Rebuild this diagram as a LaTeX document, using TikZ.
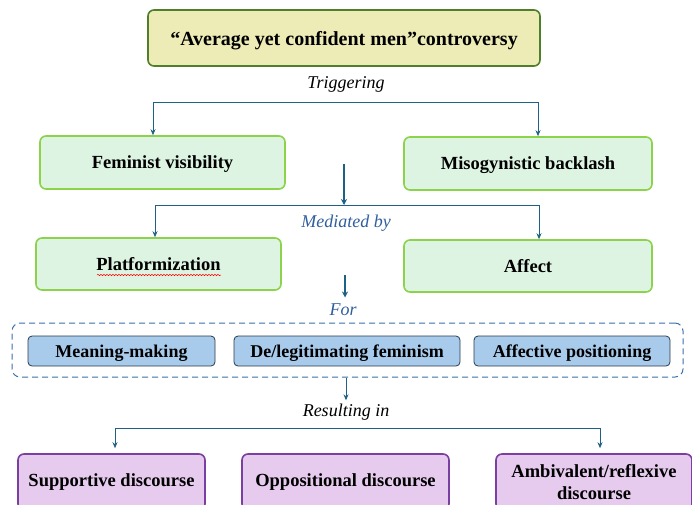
\documentclass[tikz,border=0pt]{standalone}
\usepackage{fontspec}
\setmainfont{Liberation Serif}
\usepackage{tikz}
\usetikzlibrary{positioning, arrows.meta, decorations.pathmorphing}

\definecolor{titlefill}{HTML}{EEECB6}
\definecolor{titledraw}{HTML}{4F7F2B}
\definecolor{greenfill}{HTML}{DDF4E2}
\definecolor{greendraw}{HTML}{8CD24B}
\definecolor{bluefill}{HTML}{A8CBEC}
\definecolor{bluedraw}{HTML}{2B3A4A}
\definecolor{purplefill}{HTML}{E6CBEE}
\definecolor{purpledraw}{HTML}{7A3FA0}
\definecolor{linkcol}{HTML}{1F6185}
\definecolor{labelblue}{HTML}{2F5E9E}
\definecolor{dashblue}{HTML}{3A6FA8}

\begin{document}
\begin{tikzpicture}[x=1pt, y=-1pt,
        titlebox/.style={draw=titledraw, fill=titlefill, line width=1.6pt, rounded corners=6pt, text depth=0pt, font=\fontsize{20}{24}\selectfont\bfseries},
        greenbox/.style={draw=greendraw, fill=greenfill, line width=1.6pt, rounded corners=6pt, text depth=0pt, font=\fontsize{18.5}{22}\selectfont\bfseries},
        bluebox/.style={draw=bluedraw, fill=bluefill, line width=0.8pt, rounded corners=4pt, minimum height=30pt, text depth=0pt, font=\fontsize{18}{21}\selectfont\bfseries},
        purplebox/.style={draw=purpledraw, fill=purplefill, line width=1.6pt, rounded corners=6pt, align=center, font=\fontsize{18.5}{21.5}\selectfont\bfseries},
        steplabel/.style={font=\fontsize{18}{21}\selectfont\itshape},
        link/.style={draw=linkcol, line width=0.8pt},
        arr/.style={link, -{Stealth[length=6pt, width=5pt]}},
        bigarr/.style={draw=linkcol, line width=1.8pt, -{Stealth[length=6pt, width=6pt]}}
    ]
        \useasboundingbox (0,0) rectangle (692,504);

        % top
        \node[titlebox, minimum width=392pt, minimum height=56pt] (top) at (344,38) {“Average yet confident men”controversy};
        \node[steplabel] (trig) at (346,84) {Triggering};

        \node[greenbox, minimum width=245pt, minimum height=53pt] (fem) at (162.5,162.5) {Feminist visibility};
        \node[greenbox, minimum width=248pt, minimum height=53pt] (mis) at (528,163.5) {Misogynistic backlash};

        \coordinate (tl) at (153,102);
        \coordinate (tr) at (538,102);
        \draw[link] (tl) -- (tr);
        \draw[arr] (tl) -- (tl |- fem.north);
        \draw[arr] (tr) -- (tr |- mis.north);

        % mediated by
        \node[greenbox, minimum width=245pt, minimum height=52pt] (plat) at (158.5,264) {Platformization};
        \node[greenbox, minimum width=248pt, minimum height=52pt] (aff) at (528,266) {Affect};
        \draw[red, line width=0.5pt, decorate, decoration={snake, amplitude=0.7pt, segment length=3pt}]
            (97,275) -- (221,275);

        \coordinate (mc) at (344,164);
        \coordinate (ml) at (155,205);
        \coordinate (mr) at (539,205);
        \draw[bigarr] (mc) -- (mc |- ml);
        \draw[link] (ml) -- (mr);
        \draw[arr] (ml) -- (ml |- plat.north);
        \draw[arr] (mr) -- (mr |- aff.north);
        \node[steplabel, text=labelblue] (med) at (346,223) {Mediated by};

        % for
        \coordinate (fc) at (345,275);
        \node[steplabel, text=labelblue] (for) at (343,310) {For};
        \draw[bigarr] (fc) -- ([yshift=3pt]fc |- for.north);

        \node[draw=dashblue, line width=1pt, dash pattern=on 6pt off 4pt, rounded corners=8pt, minimum width=671pt, minimum height=54pt] (grp) at (347.5,350) {};
        \node[bluebox, minimum width=187pt] (mean) at (121.5,351) {Meaning-making};
        \node[bluebox, minimum width=226pt] (delg) at (347,351) {De/legitimating feminism};
        \node[bluebox, minimum width=196pt] (apos) at (572,351) {Affective positioning};

        % resulting in
        \node[steplabel] (res) at (346,412) {Resulting in};
        \draw[arr] (res |- grp.south) -- (res.north);

        \node[purplebox, minimum width=187pt, minimum height=56pt] (sup) at (111.5,482) {Supportive discourse};
        \node[purplebox, minimum width=207pt, minimum height=56pt] (opp) at (345.5,482) {Oppositional discourse};
        \node[purplebox, minimum width=196pt, minimum height=56pt] (amb) at (594,482) {Ambivalent/reflexive\\discourse};

        \coordinate (rl) at (115,428);
        \coordinate (rr) at (600,428);
        \draw[link] (rl) -- (rr);
        \draw[arr, shorten >=5pt] (rl) -- (rl |- sup.north);
        \draw[arr, shorten >=5pt] (rr) -- (rr |- amb.north);
    \end{tikzpicture}
\end{document}
